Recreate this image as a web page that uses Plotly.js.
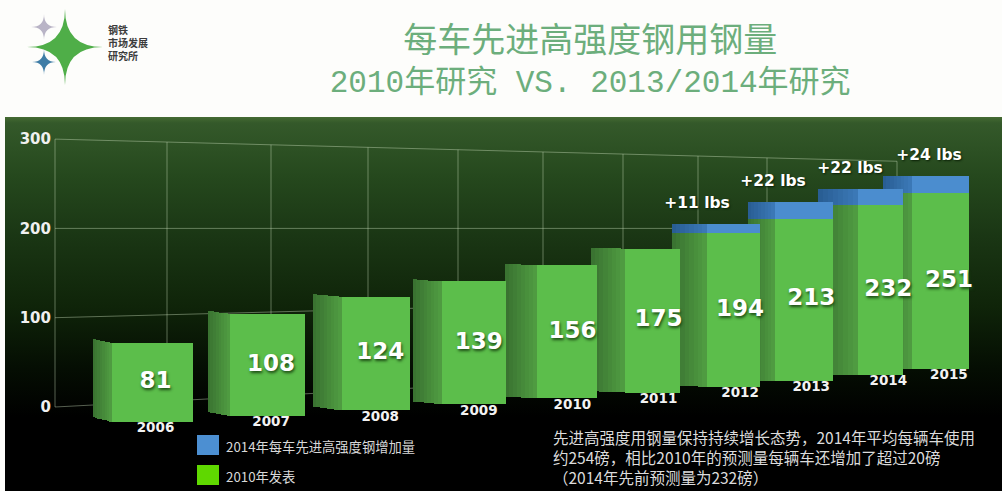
<!DOCTYPE html>
<html>
<head>
<meta charset="utf-8">
<script src="https://cdn.plot.ly/plotly-3.0.1.min.js"></script>
<style>
html,body{margin:0;padding:0;background:#fdfdfb;width:1002px;height:491px;overflow:hidden}
#panel{position:absolute;left:5px;top:117px;width:997px;height:374px;
background:linear-gradient(to bottom,#456b33 0,#34592a 6px,#25481d 60px,#1a3614 120px,#0f2409 190px,#050e03 250px,#000 300px,#000 100%)}
#chart{position:absolute;left:0;top:0;width:1002px;height:491px}
</style>
</head>
<body>
<div id="panel"></div>
<div id="chart"></div>
<script>
// ---------- chart values ----------
var years = ["2006","2007","2008","2009","2010","2011","2012","2013","2014","2015"];
var published = [81,108,124,139,156,175,194,213,232,251];
var increase = [0,0,0,0,0,0,11,22,22,24];
var increaseLabels = ["","","","","","","+11 lbs","+22 lbs","+22 lbs","+24 lbs"];
var yTicks = [0,100,200,300];
var legendLabels = ["2014年每车先进高强度钢增加量","2010年发表"];
var noteLines = ["先进高强度用钢量保持持续增长态势，2014年平均每辆车使用",
                 "约254磅，相比2010年的预测量每辆车还增加了超过20磅",
                 "（2014年先前预测量为232磅）"];
var logoLines = ["钢铁","市场发展","研究所"];

// ---------- perspective geometry (not data) ----------
var H = 491, W = 1002, L = 52, PX = 0.893, ZERO = 407;
var sideLeft   = [93,208,313,413,505,591,672,748,818,883];
var frontLeft  = [112,230,342,442,537,625,707,775,858,912];
var frontRight = [193,305,410,506,597,680,760,833,903,969];
var wallX = [55,167,271,368,458,543,623,698,767,897];
var deltaX = [0,0,0,0,0,0,697,773,850,929];
function depth(i){ return (0.975-0.0305*i)/PX; }
function floorV(i){ return (ZERO-(422-5.9*i))/PX; }
function wall(v,x){ return 200+(v-200)*(1-(x-55)*0.21/712); }
function px(x){ return (x-L)/(W-L); }
function py(y){ return 1-y/H; }
function mix(a,b,t){ return "rgb("+a.map(function(c,k){return Math.round(c+(b[k]-c)*t);}).join(",")+")"; }

var traces = [];
var STRIPS = 8;
for (var i = years.length-1; i >= 0; i--) {
  var sx=[],sw=[],sb=[],sy=[],sc=[],bx=[],bw=[],bb=[],by=[],bc=[];
  var dx=(frontLeft[i]-sideLeft[i])/STRIPS;
  var lowRise=Math.max(0,5-i*0.75), topRise=Math.max(0,4-i*0.6);
  for (var s=0;s<STRIPS;s++){
    var t=(STRIPS-s-0.5)/STRIPS;
    var lowLift=lowRise*t/PX, topLift=topRise*t/PX;
    var gTop=floorV(i)+published[i]*depth(i)+topLift;
    sx.push(sideLeft[i]+dx*(s+0.5)); sw.push(dx+0.6);
    sb.push(floorV(i)+lowLift); sy.push(gTop-floorV(i)-lowLift);
    sc.push(mix([56,112,48],[80,158,66],1-t));
    if (increase[i]>0){
      bx.push(sx[s]); bw.push(dx+0.6); bb.push(gTop);
      by.push(increase[i]*depth(i)); bc.push(mix([40,92,146],[60,122,184],1-t));
    }
  }
  traces.push({type:"bar",x:sx,y:sy,base:sb,width:sw,hoverinfo:"skip",showlegend:false,
    marker:{color:sc,line:{width:0}}});
  if (bx.length) traces.push({type:"bar",x:bx,y:by,base:bb,width:bw,hoverinfo:"skip",showlegend:false,
    marker:{color:bc,line:{width:0}}});
  var cx=(frontLeft[i]+frontRight[i])/2, fw=frontRight[i]-frontLeft[i];
  traces.push({type:"bar",name:years[i],x:[cx],y:[published[i]*depth(i)],base:[floorV(i)],width:[fw],
    hoverinfo:"skip",showlegend:false,marker:{color:"#5cbe4b",line:{width:0}}});
  if (increase[i]>0) traces.push({type:"bar",x:[cx],y:[increase[i]*depth(i)],
    base:[floorV(i)+published[i]*depth(i)],width:[fw],hoverinfo:"skip",showlegend:false,
    marker:{color:"#4b8dcf",line:{width:0}}});
}

function centre(i){ return (frontLeft[i]+frontRight[i])/2+3+0.6*i; }
var idx = years.map(function(_,i){return i;});
traces.push({type:"scatter",mode:"text",hoverinfo:"skip",showlegend:false,
  x:idx.map(centre),
  y:idx.map(function(i){return floorV(i)+published[i]*depth(i)/2;}),
  text:published.map(String),
  textposition:"middle center",
  textfont:{family:"DejaVu Sans",size:23,color:"#ffffff",weight:700,shadow:"1px 2px 3px #1c4a14"}});
traces.push({type:"scatter",mode:"text",hoverinfo:"skip",showlegend:false,
  x:idx.map(centre),
  y:idx.map(function(i){return floorV(i)-7/PX;}),
  text:years,
  textposition:"middle center",
  textfont:{family:"DejaVu Sans",size:13.5,color:"#f2f2f2",weight:700}});
var up = idx.filter(function(i){return increase[i]>0;});
traces.push({type:"scatter",mode:"text",hoverinfo:"skip",showlegend:false,
  x:up.map(function(i){return deltaX[i];}),
  y:up.map(function(i){return floorV(i)+(published[i]+increase[i])*depth(i)+20/PX;}),
  text:up.map(function(i){return increaseLabels[i];}),
  textposition:"middle center",
  textfont:{family:"DejaVu Sans",size:15.5,color:"#ffffff",weight:700,shadow:"1px 1px 2px #0a2006"}});

// ---------- shapes: wall grid, legend swatches, logo ----------
var gridLine = {color:"rgba(205,225,190,0.42)",width:1};
var shapes = [];
yTicks.forEach(function(v){
  var x0=55, x1=wallX[wallX.length-1];
  shapes.push({type:"line",layer:"below",xref:"x",yref:"y",x0:x0,x1:x1,y0:wall(v,x0),y1:wall(v,x1),line:gridLine});
});
wallX.forEach(function(x){
  shapes.push({type:"line",layer:"below",xref:"x",yref:"y",x0:x,x1:x,y0:wall(0,x),y1:wall(300,x),line:gridLine});
});
function rectPx(x0,y0,x1,y1,c){
  shapes.push({type:"rect",xref:"paper",yref:"paper",x0:px(x0),x1:px(x1),y0:py(y0),y1:py(y1),
    fillcolor:c,line:{width:0}});
}
rectPx(197,435,219,455,"#4c8fd2");
rectPx(197,465,219,485,"#5fd800");
function star(cx,cy,w,h,c){
  var a=function(x,y){return px(x)+","+py(y);};
  shapes.push({type:"path",xref:"paper",yref:"paper",fillcolor:c,line:{width:0},
    path:"M"+a(cx,cy-h)+" Q"+a(cx,cy)+" "+a(cx+w,cy)+" Q"+a(cx,cy)+" "+a(cx,cy+h)+
         " Q"+a(cx,cy)+" "+a(cx-w,cy)+" Q"+a(cx,cy)+" "+a(cx,cy-h)+" Z"});
}
star(65,47,38,38,"#4fae48");
star(44,27,13,13,"#b9b4c6");
star(44,62,12,13,"#3f7da6");

// ---------- annotations ----------
var annos = [];
function textPx(x,y,txt,size,color,weight){
  annos.push({xref:"paper",yref:"paper",x:px(x),y:py(y),xanchor:"left",yanchor:"middle",align:"left",
    showarrow:false,text:txt,font:{size:size,color:color,family:"Noto Sans CJK SC",weight:weight||400}});
}
textPx(106,43,logoLines.join("<br>"),10,"#3c3c3c",700);
textPx(224,446,legendLabels[0],13.3,"#d8d8d8");
textPx(224,476,legendLabels[1],13.3,"#d8d8d8");
textPx(551,457,noteLines.join("<br>"),15.5,"#dcdcdc");

var layout = {
  width:W,height:H,autosize:false,
  margin:{l:L,r:0,t:0,b:0,pad:0},
  paper_bgcolor:"rgba(0,0,0,0)",plot_bgcolor:"rgba(0,0,0,0)",
  barmode:"overlay",bargap:0,showlegend:false,
  title:{text:'<span style="font-size:34px">每车先进高强度钢用钢量</span><br>2010年研究 VS. 2013/2014年研究',
    font:{family:"Liberation Mono, Noto Sans CJK SC",size:31,color:"#6cae7c"},
    x:0.589,xanchor:"center",y:0.895,yanchor:"top",yref:"container"},
  xaxis:{range:[L,W],visible:false,fixedrange:true},
  yaxis:{range:[(ZERO-H)/PX,ZERO/PX],tickvals:yTicks,ticktext:yTicks.map(String),
    showgrid:false,zeroline:false,showline:false,ticks:"",fixedrange:true,
    tickfont:{family:"DejaVu Sans",size:15,color:"#f0f0f0",weight:700}},
  shapes:shapes,annotations:annos
};
Plotly.newPlot("chart",traces,layout,{displayModeBar:false,staticPlot:true});
</script>
</body>
</html>
